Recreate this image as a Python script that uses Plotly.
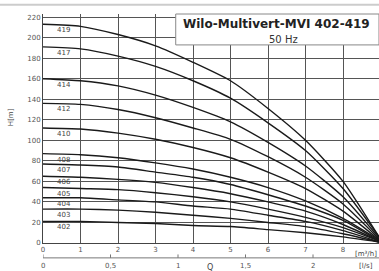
import plotly.graph_objects as go

# Flow points [m3/h]
flow = [0, 1, 2, 3, 4, 5, 6, 7, 8, 8.96]

pump_names = ["419", "417", "414", "412", "410", "408", "407", "406", "405", "404", "403", "402"]
head_419 = [213, 211, 203, 192, 176, 158, 131, 100, 60, 6]
head_417 = [191, 189, 182, 172, 158, 141, 117, 90, 53, 6]
head_414 = [160, 158, 153, 144, 132, 118, 98, 75, 45, 5]
head_412 = [136, 135, 130, 122, 112, 101, 84, 64, 38, 4]
head_410 = [112, 111, 107, 101, 93, 83, 69, 53, 31, 3]
head_408 = [87, 86, 83, 78, 72, 64, 54, 41, 24, 3]
head_407 = [77, 76, 74, 69, 64, 57, 47, 36, 22, 2]
head_406 = [65, 64, 62, 59, 54, 48, 40, 31, 18, 2]
head_405 = [54, 53, 52, 49, 45, 40, 33, 25, 15, 2]
head_404 = [44, 44, 42, 40, 36, 33, 27, 21, 12, 1]
head_403 = [33, 33, 32, 30, 27, 24, 20, 16, 9, 1]
head_402 = [21, 21, 20, 19, 17, 16, 13, 10, 6, 1]
heads = [head_419, head_417, head_414, head_412, head_410, head_408,
         head_407, head_406, head_405, head_404, head_403, head_402]

x_ticks = [0, 1, 2, 3, 4, 5, 6, 7, 8]
y_ticks = [0, 20, 40, 60, 80, 100, 120, 140, 160, 180, 200, 220]
ls_ticks = [0, 0.5, 1, 1.5, 2]
ls_labels = ["0", "0,5", "1", "1,5", "2"]
M3H_PER_LS = 3.6

FONT = "DejaVu Sans"

fig = go.Figure()
for name, h in zip(pump_names, heads):
    fig.add_trace(go.Scatter(x=flow, y=h, mode="lines", name=name,
                             line=dict(color="#1a1a1a", width=1.4, shape="spline", smoothing=0.6),
                             showlegend=False, hoverinfo="skip"))

annotations = []
for name, h in zip(pump_names, heads):
    annotations.append(dict(x=0.55, y=h[0], xref="x", yref="y", text=name, showarrow=False,
                            xanchor="center", yshift=-6, font=dict(size=7, color="#444", family=FONT)))

# title box
annotations.append(dict(x=0.696, y=0.955, xref="paper", yref="paper", text="<b>Wilo-Multivert-MVI 402-419</b>",
                        xanchor="center", yanchor="middle",
                        showarrow=False, font=dict(size=12, color="#222", family=FONT)))
annotations.append(dict(x=0.715, y=0.89, xref="paper", yref="paper", text="50 Hz",
                        xanchor="center", yanchor="middle",
                        showarrow=False, font=dict(size=10, color="#333", family=FONT)))
# axis titles / units
annotations.append(dict(x=-0.095, y=0.55, xref="paper", yref="paper", text="H[m]", textangle=-90,
                        xanchor="center", yanchor="middle",
                        showarrow=False, font=dict(size=7, color="#444", family=FONT)))
annotations.append(dict(x=8.6, y=-0.02, xref="x", yref="paper", text="[m³/h]", yanchor="top",
                        xanchor="center", showarrow=False, font=dict(size=7, color="#444", family=FONT)))
annotations.append(dict(x=8.6, y=-0.075, xref="x", yref="paper", text="[l/s]", yanchor="top",
                        xanchor="center", showarrow=False, font=dict(size=7, color="#444", family=FONT)))
annotations.append(dict(x=4.45, y=-0.08, xref="x", yref="paper", text="Q", yanchor="top",
                        xanchor="center", showarrow=False, font=dict(size=8, color="#444", family=FONT)))

shapes = [
    dict(type="rect", xref="paper", yref="paper", x0=0.395, x1=1.0, y0=0.865, y1=1.0,
         line=dict(color="#888", width=1), fillcolor="white", layer="above"),
    dict(type="line", xref="paper", yref="paper", x0=-0.13, x1=1.0, y0=1.04, y1=1.04,
         line=dict(color="#ccc", width=2)),
    dict(type="line", xref="x", yref="paper", x0=0, x1=8.96, y0=-0.065, y1=-0.065,
         line=dict(color="#777", width=1)),
]
for t, lab in zip(ls_ticks, ls_labels):
    xv = t * M3H_PER_LS
    shapes.append(dict(type="line", xref="x", yref="paper", x0=xv, x1=xv, y0=-0.065, y1=-0.05,
                       line=dict(color="#777", width=1)))
    annotations.append(dict(x=xv, y=-0.075, xref="x", yref="paper", text=lab, yanchor="top",
                            xanchor="center", showarrow=False, font=dict(size=7, color="#555", family=FONT)))

fig.update_layout(
    width=379, height=271,
    margin=dict(l=43, r=0, t=14, b=28),
    paper_bgcolor="white", plot_bgcolor="white",
    annotations=annotations, shapes=shapes,
    xaxis=dict(range=[0, 8.96], tickvals=x_ticks, showgrid=True, gridcolor="#555", gridwidth=1,
               zeroline=False, showline=True, linecolor="#444", linewidth=1,
               tickfont=dict(size=7, color="#555", family=FONT), ticks="", fixedrange=True),
    yaxis=dict(range=[0, 223], tickvals=y_ticks, showgrid=True, gridcolor="#555", gridwidth=1,
               zeroline=False, showline=True, linecolor="#444", linewidth=1, mirror=True,
               tickfont=dict(size=7, color="#555", family=FONT), ticks="", fixedrange=True),
)

fig.write_html("out.html", config={"displayModeBar": False, "staticPlot": True},
               post_script="document.body.style.margin='0';document.body.style.overflow='hidden';")
